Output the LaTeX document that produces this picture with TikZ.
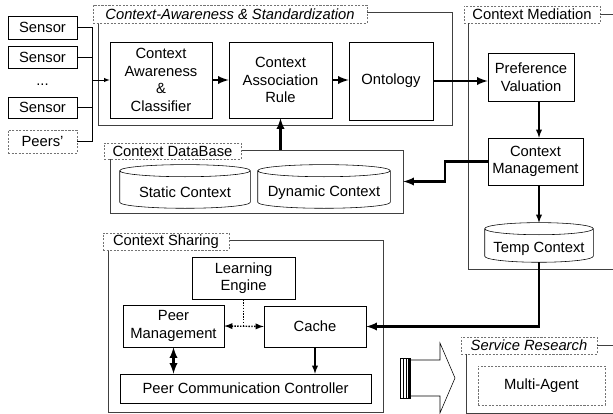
\documentclass[tikz,border=0pt]{standalone}
\usepackage{fontspec}
\setmainfont{Liberation Sans}
\usetikzlibrary{calc,positioning}

% outline of a data store round a (body) node
\newcommand\drum[1]{%
  \draw[thin] let \p1=(#1.north west), \p2=(#1.south east), \n1={(\x2-\x1)/2} in
    (\x1,\y1+4.3pt) -- (\x1,\y2+4.3pt)
    arc[start angle=180, end angle=360, x radius=\n1, y radius=4.3pt]
    -- (\x2,\y1+4.3pt)
    (\x1+\n1,\y1+4.3pt) ellipse[x radius=\n1, y radius=4.3pt];}

\begin{document}
\begin{tikzpicture}[
        x=0.025cm, y=-0.025cm,
        every node/.append style={font=\fontsize{10.5}{12.5}\selectfont, align=center, inner sep=1pt},
        box/.style 2 args={draw, thin, minimum width=#1*0.025cm, minimum height=#2*0.025cm},
        dashbox/.style 2 args={draw=black!55, dash pattern=on 1.5pt off 1pt, minimum width=#1*0.025cm, minimum height=#2*0.025cm},
        store/.style 2 args={minimum width=#1*0.025cm, minimum height=#2*0.025cm},
        panel/.style 2 args={draw=black!75, thin, minimum width=#1*0.025cm, minimum height=#2*0.025cm},
        heading/.style 2 args={draw=black!55, fill=white, dash pattern=on 1.5pt off 1pt,
            minimum width=#1*0.025cm, minimum height=#2*0.025cm},
        wire/.style={thin},
        conn/.style={thin,-latex},
        mid/.style={line width=1pt,-latex},
        bold/.style={line width=1.6pt,-latex}
    ]
    \useasboundingbox (0,0) rectangle (613,414);

    % frames
    \node[panel={354}{113}] (cas) at (275,68.5) {};
    \node[panel={293}{63}] (db) at (256.5,181.5) {};
    \node[panel={275}{172}] (cs) at (245.5,326) {};

    \node[heading={274}{18}, font=\fontsize{10.5}{12.5}\selectfont\itshape] (lcas) at (230,14) {Context-Awareness \& Standardization};
    \node[heading={136}{17}] (lcm) at (532,14.5) {Context Mediation};
    \node[heading={137}{16}] (ldb) at (172.5,151) {Context DataBase};
    \node[heading={126}{17}] (lcs) at (166,241.5) {Context Sharing};
    \node[heading={136}{17}, font=\fontsize{10.5}{12.5}\selectfont\itshape] (lsr) at (529,345.5) {Service Research};

    \draw[black!75, thin] (lcm.east) -- (613,14.5);
    \draw[black!75, thin] (468,23) -- (468,269) -- (613,269);
    \draw[black!75, thin] (lsr.east) -- (613,345.5);
    \draw[black!75, thin] (466,354) -- (466,413) -- (613,413);

    % inputs
    \node[box={69}{23}] (s1) at (42.5,27.5) {Sensor};
    \node[box={69}{22}] (s2) at (42.5,57.5) {Sensor};
    \node (dots) at (42.5,85) {...};
    \node[box={69}{21}] (s3) at (42.5,107.5) {Sensor};
    \node[dashbox={69}{23}] (peers) at (42.5,141.5) {Peers'};
    \coordinate (bus) at (92,0);

    % blocks
    \node[box={102}{76}] (cac) at (161,80) {Context\\Awareness\\\&\\Classifier};
    \node[box={103}{76}] (car) at (280.5,80) {Context\\Association\\Rule};
    \node[box={84}{78}] (onto) at (391,81) {Ontology};
    \node[box={86}{48}] (pv) at (531,77) {Preference\\Valuation};
    \node[box={95}{47}] (cm) at (535.5,161.5) {Context\\Management};
    \node[store={108}{27}] (tc) at (539,248.5) {Temp Context};
    \node[store={130}{31}] (sc) at (185,192.5) {Static Context};
    \node[store={132}{31}] (dc) at (324,192.5) {Dynamic Context};
    \drum{tc} \drum{sc} \drum{dc}
    \node[box={103}{42}] (le) at (243.5,278) {Learning\\Engine};
    \node[box={101}{42}] (pm) at (173.5,326) {Peer\\Management};
    \node[box={102}{41}] (ca) at (315,326.5) {Cache};
    \node[box={251}{29}] (pcc) at (245.5,388.5) {Peer Communication Controller};
    \node[dashbox={127}{39}] (ma) at (541.5,385.5) {Multi-Agent};

    % connectors
    \draw[wire] (s1.east) -- (s1.east -| bus) -- (peers.east -| bus) -- (peers.east);
    \draw[wire] (s2.east) -- (s2.east -| bus);
    \draw[wire] (s3.east) -- (s3.east -| bus);
    \draw[conn] (cac.west -| bus) -- (cac.west);
    \draw[bold] (cac) -- (car);
    \draw[bold] (car.east) -- (car.east -| onto.west);
    \draw[bold] (onto.east) -- (onto.east -| pv.west);
    \draw[mid] (pv.south -| tc) -- (cm.north -| tc);
    \draw[mid] (cm.south -| tc) -- ([yshift=0.3cm]tc.north);
    \draw[bold] (cm.west) -- ++(-43,0) |- (db.east);
    \draw[bold] (db.north -| car) -- (car.south);
    \draw[bold] (tc.south) |- (ca.east);
    \draw[line width=1pt, densely dotted, latex-latex] (pm.east) -- (ca.west);
    \draw[line width=1pt, densely dotted] (le.south) -- (le.south |- pm.east);
    \draw[bold, latex-latex] (pm.south) -- (pcc.north -| pm);
    \draw[mid] (ca.south) -- (pcc.north -| ca);

    % hollow arrow
    \draw[thin] (410,360) -- (440,360) -- (440,343) -- (455,378) -- (440,413) -- (440,396) -- (410,396);
    \draw[thin] (400,358) rectangle (410,398);
    \draw[thin] (403,358) -- (403,398);
    \draw[thin] (406,358) -- (406,398);
    \draw[line width=1pt] (409,358) -- (409,398);
\end{tikzpicture}
\end{document}
